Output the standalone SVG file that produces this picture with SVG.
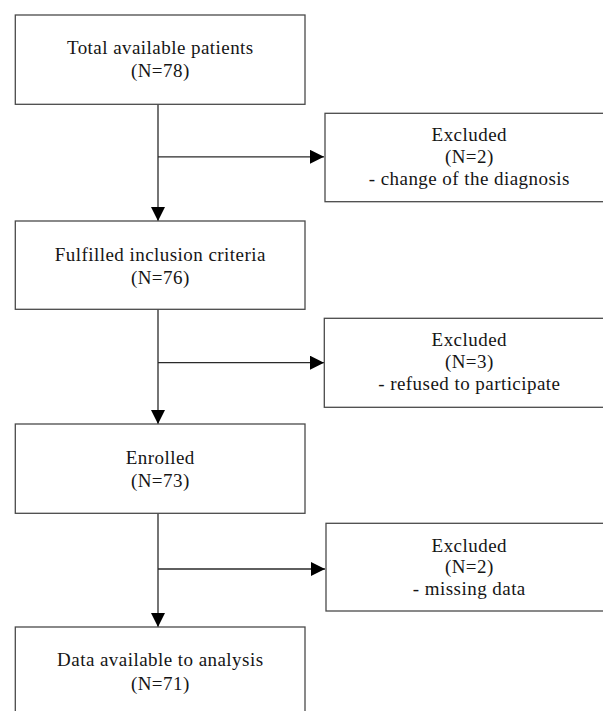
<svg xmlns="http://www.w3.org/2000/svg" width="603" height="711" viewBox="0 0 603 711">
<style>
  .box { fill: #ffffff; stroke: #4a4a4a; stroke-width: 1.3; }
  .t { font-family: "Liberation Serif", "Times New Roman", serif; font-size: 19px; letter-spacing: 0.45px; fill: #151515; text-anchor: middle; }
  .c { fill: none; stroke: #2a2a2a; stroke-width: 1.3; }
</style>
<defs>
  <marker id="arrow" markerUnits="userSpaceOnUse" markerWidth="14" markerHeight="14" viewBox="0 0 13 13" refX="13" refY="6.5" orient="auto">
    <path d="M0,0 L13,6.5 L0,13 Z" fill="#000000"/>
  </marker>
</defs>
<rect width="603" height="711" fill="#ffffff"/>

<g id="connectors">
  <line class="c" x1="158" y1="104.3" x2="158" y2="221" marker-end="url(#arrow)"/>
  <line class="c" x1="158" y1="156.8" x2="324" y2="156.8" marker-end="url(#arrow)"/>
  <line class="c" x1="158" y1="309.3" x2="158" y2="424" marker-end="url(#arrow)"/>
  <line class="c" x1="158" y1="362.7" x2="324" y2="362.7" marker-end="url(#arrow)"/>
  <line class="c" x1="158" y1="513.3" x2="158" y2="627" marker-end="url(#arrow)"/>
  <line class="c" x1="158" y1="569" x2="325" y2="569" marker-end="url(#arrow)"/>
</g>

<g id="total">
  <rect class="box" x="15.3" y="15" width="289.7" height="89.3"/>
  <text class="t" x="160.3" y="54">Total available patients</text>
  <text class="t" x="160.3" y="77">(N=78)</text>
</g>

<g id="excluded1">
  <rect class="box" x="325" y="113.3" width="289" height="88.4"/>
  <text class="t" x="469.3" y="141">Excluded</text>
  <text class="t" x="469.3" y="163.3">(N=2)</text>
  <text class="t" x="469.3" y="185">- change of the diagnosis</text>
</g>

<g id="fulfilled">
  <rect class="box" x="15.3" y="221" width="289.7" height="88.3"/>
  <text class="t" x="160.3" y="260.7">Fulfilled inclusion criteria</text>
  <text class="t" x="160.3" y="284">(N=76)</text>
</g>

<g id="excluded2">
  <rect class="box" x="324.3" y="318.3" width="290" height="89"/>
  <text class="t" x="469.3" y="345.7">Excluded</text>
  <text class="t" x="469.3" y="368.3">(N=3)</text>
  <text class="t" x="469.3" y="390">- refused to participate</text>
</g>

<g id="enrolled">
  <rect class="box" x="15.3" y="424" width="289.7" height="89.3"/>
  <text class="t" x="160.3" y="464">Enrolled</text>
  <text class="t" x="160.3" y="487">(N=73)</text>
</g>

<g id="excluded3">
  <rect class="box" x="326" y="523.3" width="288" height="87.7"/>
  <text class="t" x="469.3" y="551.7">Excluded</text>
  <text class="t" x="469.3" y="573.3">(N=2)</text>
  <text class="t" x="469.3" y="595">- missing data</text>
</g>

<g id="analysis">
  <rect class="box" x="15.3" y="627" width="289.7" height="89"/>
  <text class="t" x="160.3" y="666">Data available to analysis</text>
  <text class="t" x="160.3" y="689.5">(N=71)</text>
</g>
</svg>
